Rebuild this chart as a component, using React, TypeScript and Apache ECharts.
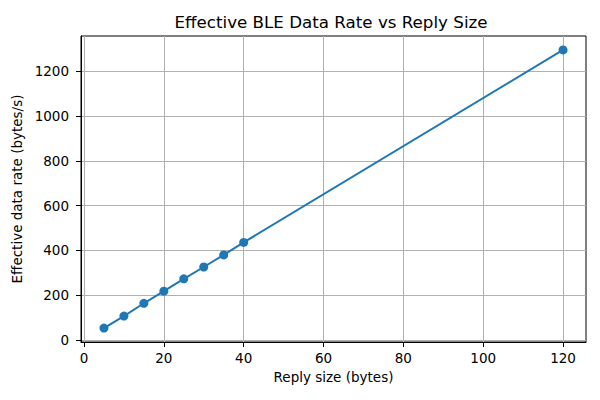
import React, { useEffect, useRef } from 'react';
import * as echarts from 'echarts';

const replySizes = [5, 10, 15, 20, 25, 30, 35, 40, 120];
const dataRates = [53, 107, 164, 218, 273, 326, 380, 436, 1296];
const xTicks = [0, 20, 40, 60, 80, 100, 120];
const yTicks = [0, 200, 400, 600, 800, 1000, 1200];

const FONT = 'DejaVu Sans';

export default function App() {
  const chartRef = useRef<HTMLDivElement>(null);

  useEffect(() => {
    if (!chartRef.current) return;
    const chart = echarts.init(chartRef.current, undefined, { renderer: 'svg' });

    const axisCommon = {
      axisLine: { show: true, onZero: false, lineStyle: { color: '#000', width: 1 } },
      axisTick: { show: true, inside: false, length: 5, lineStyle: { color: '#000', width: 1 } },
      splitLine: { show: true, lineStyle: { color: '#b0b0b0', width: 1 } },
      nameTextStyle: { color: '#000', fontSize: 13.5, fontFamily: FONT },
    };

    chart.setOption({
      animation: false,
      backgroundColor: '#fff',
      // title drawn as graphic text so it centres over the plot area
      graphic: [
        {
          type: 'text',
          x: 331,
          y: 30,
          style: {
            text: 'Effective BLE Data Rate vs Reply Size',
            fill: '#000',
            fontSize: 16.7,
            fontFamily: FONT,
            textAlign: 'center',
            textVerticalAlign: 'bottom',
          },
        },
      ],
      grid: {
        left: 81,
        right: 14,
        top: 36,
        bottom: 58,
        containLabel: false,
        outerBoundsMode: 'none',
        show: true,
        borderColor: '#000',
        borderWidth: 1,
        backgroundColor: 'transparent',
      },
      xAxis: {
        type: 'value',
        min: -0.75,
        max: 125.75,
        name: 'Reply size (bytes)',
        nameLocation: 'middle',
        nameGap: 28,
        ...axisCommon,
        axisTick: { ...axisCommon.axisTick, customValues: xTicks },
        axisLabel: {
          customValues: xTicks,
          formatter: (v: number) => String(v),
          color: '#000', fontSize: 13.5, fontFamily: FONT, margin: 9,
        },
      },
      yAxis: {
        type: 'value',
        min: -9,
        max: 1358,
        name: 'Effective data rate (bytes/s)',
        nameLocation: 'middle',
        nameGap: 48,
        ...axisCommon,
        axisTick: { ...axisCommon.axisTick, customValues: yTicks },
        axisLabel: {
          customValues: yTicks,
          formatter: (v: number) => String(v),
          color: '#000', fontSize: 13.5, fontFamily: FONT, margin: 12,
        },
      },
      series: [
        {
          type: 'line',
          data: replySizes.map((x, i) => [x, dataRates[i]]),
          symbol: 'circle',
          symbolSize: 9,
          showSymbol: true,
          itemStyle: { color: '#1f77b4' },
          lineStyle: { color: '#1f77b4', width: 2 },
          z: 5,
        },
      ],
    });

    return () => chart.dispose();
  }, []);

  return <div ref={chartRef} style={{ width: 600, height: 400, position: 'absolute', left: 0, top: 0 }} />;
}
